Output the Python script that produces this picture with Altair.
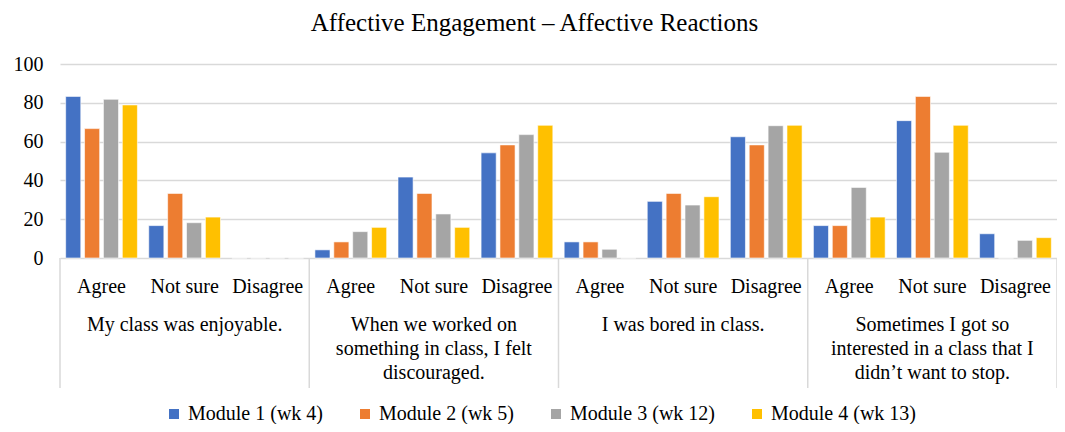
import altair as alt
import pandas as pd

groups = [
    "My class was enjoyable.",
    "When we worked on\nsomething in class, I felt\ndiscouraged.",
    "I was bored in class.",
    "Sometimes I got so\ninterested in a class that I\ndidn’t want to stop.",
]
subs = ["Agree", "Not sure", "Disagree"]
modules = ["Module 1 (wk 4)", "Module 2 (wk 5)", "Module 3 (wk 12)", "Module 4 (wk 13)"]
colors = ["#4472C4", "#ED7D31", "#A5A5A5", "#FFC000"]

m1 = [83.3, 16.7, 0, 4.2, 41.7, 54.2, 8.3, 29.2, 62.5, 16.7, 70.8, 12.5]
m2 = [66.7, 33.3, 0, 8.3, 33.3, 58.3, 8.3, 33.3, 58.3, 16.7, 83.3, 0]
m3 = [81.8, 18.2, 0, 13.6, 22.7, 63.6, 4.5, 27.3, 68.2, 36.4, 54.5, 9.1]
m4 = [78.9, 21.1, 0, 15.8, 15.8, 68.4, 0, 31.6, 68.4, 21.1, 68.4, 10.5]
series = [m1, m2, m3, m4]

FONT = "Liberation Serif"
W, H = 997, 194

slots = [f"{gi + 1}|{s}" for gi in range(len(groups)) for s in subs]

rows = []
for mi, m in enumerate(modules):
    for k, slot in enumerate(slots):
        rows.append({"slot": slot, "module": m, "value": series[mi][k]})
bars_df = pd.DataFrame(rows)

sub_df = pd.DataFrame({"slot": slots, "label": [s.split("|")[1] for s in slots]})
grp_df = pd.DataFrame({"slot": [f"{gi + 1}|Not sure" for gi in range(len(groups))], "label": groups})
sep_df = pd.DataFrame({"slot": [f"{gi + 1}|Agree" for gi in range(len(groups))]})
end_df = pd.DataFrame({"slot": [slots[-1]]})

xscale = alt.Scale(domain=slots, paddingInner=0, paddingOuter=0)

bars = alt.Chart(bars_df).mark_bar(stroke="white", strokeWidth=0.6).encode(
    x=alt.X("slot:N", scale=xscale, axis=None, sort=slots),
    xOffset=alt.XOffset("module:N", scale=alt.Scale(domain=modules, paddingInner=0.2, paddingOuter=0.3)),
    y=alt.Y(
        "value:Q",
        scale=alt.Scale(domain=[0, 100], nice=False),
        axis=alt.Axis(
            values=[0, 20, 40, 60, 80, 100], title=None, domain=False, ticks=False, tickSize=0,
            labelPadding=17, labelFont=FONT, labelFontSize=20, labelColor="black",
            gridColor="#d9d9d9", gridWidth=1.3,
        ),
    ),
    color=alt.Color(
        "module:N",
        scale=alt.Scale(domain=modules, range=colors),
        legend=alt.Legend(
            title=None, orient="none", legendX=104, legendY=340, direction="horizontal",
            symbolType="square", symbolSize=100, symbolStrokeWidth=0,
            labelFont=FONT, labelFontSize=20, labelColor="black", columnPadding=32, labelOffset=4,
        ),
    ),
)

sub_text = alt.Chart(sub_df).mark_text(font=FONT, fontSize=20, baseline="alphabetic", color="black").encode(
    x=alt.X("slot:N", scale=xscale, axis=None),
    y=alt.value(229),
    text="label:N",
)

grp_text = alt.Chart(grp_df).mark_text(
    font=FONT, fontSize=20, baseline="alphabetic", color="black", lineBreak="\n", lineHeight=24
).encode(
    x=alt.X("slot:N", scale=xscale, axis=None),
    y=alt.value(267),
    text="label:N",
)

seps = alt.Chart(sep_df).mark_rule(color="#d9d9d9", strokeWidth=1.5).encode(
    x=alt.X("slot:N", scale=xscale, axis=None, bandPosition=0),
    y=alt.value(H),
    y2=alt.value(H + 130),
)
end_sep = alt.Chart(end_df).mark_rule(color="#d9d9d9", strokeWidth=1.5).encode(
    x=alt.X("slot:N", scale=xscale, axis=None, bandPosition=1),
    y=alt.value(H),
    y2=alt.value(H + 130),
)

chart = alt.layer(bars, seps, end_sep, sub_text, grp_text).properties(
    width=W,
    height=H,
    title=alt.TitleParams(
        "Affective Engagement – Affective Reactions", font=FONT, fontSize=25, fontWeight="normal",
        color="black", anchor="middle", frame="group", offset=18, dx=-24,
    ),
    autosize=alt.AutoSizeParams(type="none"),
    padding={"left": 52, "top": 56, "right": 0, "bottom": 166},
).configure_view(stroke=None)

chart.save("out.html", embed_options={"renderer": "svg", "actions": False})
